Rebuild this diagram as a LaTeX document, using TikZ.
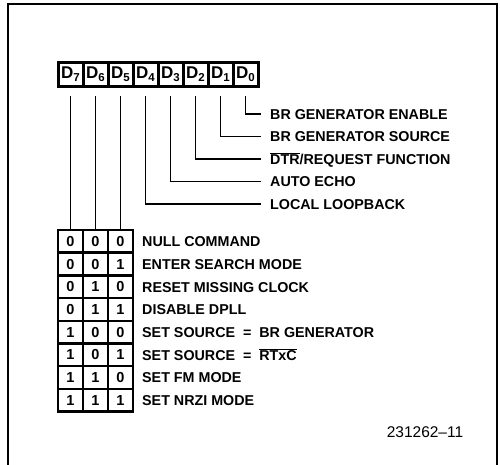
\documentclass[tikz,border=0pt]{standalone}
\usepackage{fontspec}
\setmainfont{Liberation Sans}
\usetikzlibrary{positioning}
\newcommand\regbit[1]{D{\fontsize{11.5}{12}\selectfont\raisebox{-3pt}{#1}}}
\newcommand\negbar[1]{$\overline{\hbox{#1}}$}
\tikzset{
    % Register bit cells
    regcell/.style={
        draw,
        line width=3pt,
        outer sep=0pt,
        inner sep=0pt,
        minimum width=25pt,
        minimum height=24pt,
        font=\bfseries\fontsize{17}{19}\selectfont,
    },
    % Cells of the command table
    tabcell/.style={
        draw,
        line width=2.5pt,
        outer sep=0pt,
        inner sep=0pt,
        minimum width=25pt,
        minimum height=22.7pt,
        font=\bfseries\fontsize{14.5}{16}\selectfont,
    },
    % Text beside a bit line or a table row
    bitlabel/.style={
        anchor=west,
        inner sep=0pt,
        text height=10.5pt,
        text depth=0pt,
        font=\bfseries\fontsize{14.3}{16}\selectfont,
    },
    % Lines leaving the register
    bitline/.style={
        line width=1.6pt,
        shorten <=10pt,
    },
    % Open frame round the figure
    frame/.style={
        line width=1.5pt,
    },
}

\begin{document}
\begin{tikzpicture}[x=1pt, y=-1pt]
    \useasboundingbox (0,0) rectangle (500,465);
    \draw [frame] (8,465) |- (497,4) -- (497,465);

    \node (d7) [regcell] at (70.5,74.5) {\regbit{7}};
    \node (d6) [regcell, right=0pt of d7] {\regbit{6}};
    \node (d5) [regcell, right=0pt of d6] {\regbit{5}};
    \node (d4) [regcell, right=0pt of d5] {\regbit{4}};
    \node (d3) [regcell, right=0pt of d4] {\regbit{3}};
    \node (d2) [regcell, right=0pt of d3] {\regbit{2}};
    \node (d1) [regcell, right=0pt of d2] {\regbit{1}};
    \node (d0) [regcell, right=0pt of d1] {\regbit{0}};

    \node (brena) [bitlabel] at (270,114) {BR GENERATOR ENABLE};
    \node (brsrc) [bitlabel] at (270,136.5) {BR GENERATOR SOURCE};
    \node (dtrreq) [bitlabel] at (270,159) {\negbar{DTR}/REQUEST FUNCTION};
    \node (aecho) [bitlabel] at (270,181.5) {AUTO ECHO};
    \node (lloop) [bitlabel] at (270,204) {LOCAL LOOPBACK};

    \foreach \a/\b/\c/\cmd [count=\r] in {
        0/0/0/NULL COMMAND,
        0/0/1/ENTER SEARCH MODE,
        0/1/0/RESET MISSING CLOCK,
        0/1/1/DISABLE DPLL,
        1/0/0/SET SOURCE\ \ =\ \ BR GENERATOR,
        1/0/1/SET SOURCE\ \ =\ \ \negbar{RTxC},
        1/1/0/SET FM MODE,
        1/1/1/SET NRZI MODE} {
        \node (t\r-a) [tabcell] at (70.5,218.65+22.7*\r) {\a};
        \node (t\r-b) [tabcell, right=0pt of t\r-a] {\b};
        \node (t\r-c) [tabcell, right=0pt of t\r-b] {\c};
        \node (cmd\r) [bitlabel] at (142,218.65+22.7*\r) {\cmd};
    }

    \draw [bitline] (d7.south) -- (t1-a.north);
    \draw [bitline] (d6.south) -- (t1-b.north);
    \draw [bitline] (d5.south) -- (t1-c.north);
    \draw [bitline, shorten >=9pt] (d4.south) |- (lloop.west);
    \draw [bitline, shorten >=9pt] (d3.south) |- (aecho.west);
    \draw [bitline, shorten >=9pt] (d2.south) |- (dtrreq.west);
    \draw [bitline, shorten >=9pt] (d1.south) |- (brsrc.west);
    \draw [bitline, shorten >=9pt] (d0.south) |- (brena.west);

    \node (figno) [font=\fontsize{15.5}{17}\selectfont] at (425,432) {231262--11};
\end{tikzpicture}
\end{document}
